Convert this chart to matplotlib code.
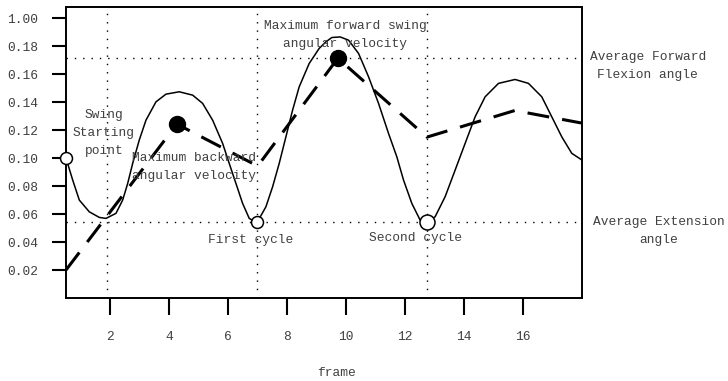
import numpy as np
import matplotlib
matplotlib.use("Agg")
import matplotlib.pyplot as plt

plt.rcParams['font.family'] = ['Liberation Mono', 'DejaVu Sans Mono']
plt.rcParams['font.size'] = 9.3

# solid curve (angle)
solid_x = [0.5, 0.727, 0.951, 1.290, 1.629, 1.856, 2.195, 2.422, 2.592, 2.761, 2.985,
           3.212, 3.551, 3.890, 4.341, 4.795, 5.134, 5.473, 5.812, 6.036, 6.263, 6.490,
           6.714, 6.97, 7.28, 7.507, 7.731, 7.958, 8.185, 8.408, 8.747, 9.086, 9.314,
           9.517, 9.798, 10.083, 10.422, 10.761, 11.100, 11.439, 11.720, 11.947, 12.229,
           12.510, 12.737, 13.019, 13.358, 13.697, 14.036, 14.375, 14.714, 15.168,
           15.731, 16.185, 16.636, 16.975, 17.314, 17.653, 18.0]
solid_y = [0.1000, 0.0843, 0.0700, 0.0616, 0.0576, 0.0569, 0.0605, 0.0700, 0.0819, 0.0962,
           0.1129, 0.1271, 0.1402, 0.1457, 0.1474, 0.1450, 0.1391, 0.1271, 0.1105, 0.0962,
           0.0819, 0.0676, 0.0569, 0.0536, 0.0652, 0.0795, 0.0962, 0.1152, 0.1343, 0.1509,
           0.1676, 0.1784, 0.1831, 0.1862, 0.1866, 0.1843, 0.1748, 0.1581, 0.1391, 0.1176,
           0.1009, 0.0843, 0.0676, 0.0557, 0.0538, 0.0581, 0.0724, 0.0914, 0.1105, 0.1295,
           0.1438, 0.1534, 0.1562, 0.1534, 0.1438, 0.1295, 0.1152, 0.1034, 0.0986]

# dashed curve (angular velocity)
dash_x = [0.5, 4.26, 7.0, 9.72, 12.74, 15.72, 18.0]
dash_y = [0.020, 0.1243, 0.0943, 0.1714, 0.115, 0.134, 0.125]

# marked points
open_x = [0.5, 6.97]
open_y = [0.100, 0.0543]
open2_x = [12.74]
open2_y = [0.0543]
filled_x = [4.26, 9.72]
filled_y = [0.1243, 0.1714]

# reference lines
vlines = [1.9, 6.97, 12.74]
hlines = [0.1714, 0.0543]

xticks = [2, 4, 6, 8, 10, 12, 14, 16]
yticks = [0.02, 0.04, 0.06, 0.08, 0.10, 0.12, 0.14, 0.16, 0.18, 0.20]
ytick_labels = ['0.02', '0.04', '0.06', '0.08', '0.10', '0.12', '0.14', '0.16', '0.18', '1.00']

tcol = '#404040'
ls_txt = 1.65

fig = plt.figure(figsize=(7.28, 3.81), dpi=100)
ax = fig.add_axes([66/728, 83/381, 516/728, 291/381])
ax.set_xlim(0.5, 18.0)
ax.set_ylim(0, 0.208)

for v in vlines:
    ax.axvline(v, color='black', lw=1.0, ls=(0, (1, 5)), zorder=1)
for h in hlines:
    ax.axhline(h, color='black', lw=1.0, ls=(0, (1, 5)), zorder=1)

ax.plot(solid_x, solid_y, color='black', lw=1.1, zorder=2)
ax.plot(dash_x, dash_y, color='black', lw=2.2, dashes=(7.2, 4.3), zorder=2)

ax.plot(open_x, open_y, 'o', ms=8.6, mfc='white', mec='black', mew=1.1, zorder=4, clip_on=False)
ax.plot(open2_x, open2_y, 'o', ms=10.8, mfc='white', mec='black', mew=1.1, zorder=4)
ax.plot(filled_x, filled_y, 'o', ms=11.5, color='black', zorder=4)

ax.text(1.79, 0.1179, "Swing\nStarting\npoint", ha='center', va='center', color=tcol, linespacing=ls_txt)
ax.text(4.84, 0.0936, "Maximum backward\nangular velocity", ha='center', va='center', color=tcol, linespacing=ls_txt)
ax.text(9.96, 0.1879, "Maximum forward swing\nangular velocity", ha='center', va='center', color=tcol, linespacing=1.6)
ax.text(6.77, 0.0414, "First cycle", ha='center', va='center', color=tcol)
ax.text(12.36, 0.0429, "Second cycle", ha='center', va='center', color=tcol)
ax.text(20.23, 0.166, "Average Forward\nFlexion angle", ha='center', va='center', color=tcol,
        linespacing=ls_txt, clip_on=False)
ax.text(20.6, 0.0479, "Average Extension\nangle", ha='center', va='center', color=tcol,
        linespacing=ls_txt, clip_on=False)

for s in ax.spines.values():
    s.set_linewidth(1.4)

ax.set_xticks(xticks)
ax.set_xticklabels([str(t) for t in xticks])
ax.set_yticks(yticks)
ax.set_yticklabels(ytick_labels)
ax.tick_params(axis='x', length=12, width=1.5, pad=12, colors='black', labelcolor=tcol)
ax.tick_params(axis='y', length=10, width=1.5, pad=10, colors='black', labelcolor=tcol)

ax.set_xlabel("frame", color=tcol)
ax.xaxis.set_label_coords(0.525, -0.237)

fig.savefig("out.png", dpi=100)
